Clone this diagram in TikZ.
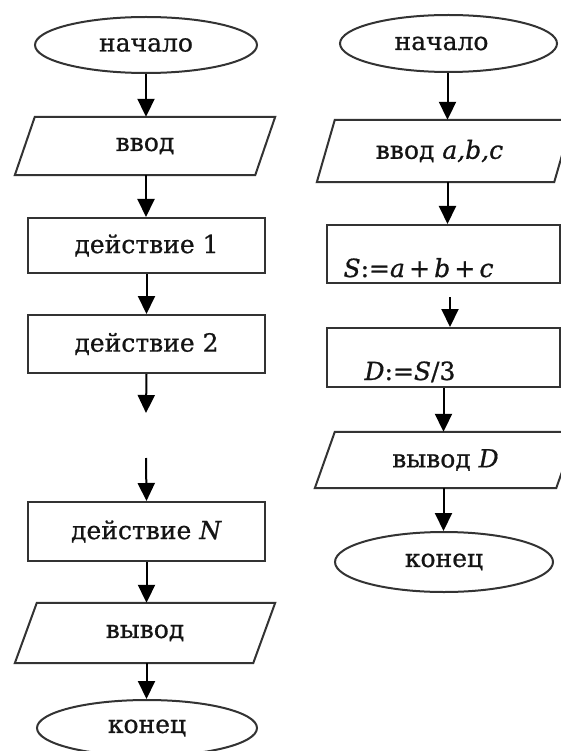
\documentclass[tikz,border=0pt]{standalone}
\usepackage{fontspec}
\setmainfont{DejaVu Serif}[FakeBold=0.8]
\usetikzlibrary{shapes.geometric,arrows.meta}
\begin{document}
\begin{tikzpicture}[x=1pt,y=-1pt,
  every node/.style={font=\fontsize{25}{29}\selectfont, text=black!92},
  outline/.style={draw=black!80, line width=2pt, line join=miter},
  terminal/.style={outline, ellipse, inner sep=0pt},
  process/.style={outline, rectangle, inner sep=0pt},
  iobox/.style={rectangle, inner sep=0pt},
  flow/.style={draw=black, line width=2pt, -{Triangle[width=17pt,length=18pt]}},
]
\useasboundingbox (0,0) rectangle (561,751);

% ---------- general scheme (left column) ----------
\node[terminal, minimum width=222pt, minimum height=56pt] (startL) at (146,45) {начало};
\node[iobox, minimum width=240pt, minimum height=58pt] (inL) at (145,146) {ввод};
\node[process, minimum width=237pt, minimum height=55pt] (act1) at (146.5,245.5) {действие 1};
\node[process, minimum width=237pt, minimum height=58pt] (act2) at (146.5,344) {действие 2};
\coordinate (gapTop) at (146,413);
\coordinate (gapBot) at (146,458);
\node[process, minimum width=237pt, minimum height=59pt] (actN) at (146.5,531.5) {действие \textit{N}};
\node[iobox, minimum width=238pt, minimum height=60pt] (outL) at (145,633) {вывод};
\node[terminal, minimum width=220pt, minimum height=56pt] (endL) at (147,728) {конец};

% ---------- example (right column) ----------
\node[terminal, minimum width=217pt, minimum height=57pt] (startR) at (448.5,43.5) {начало\hspace*{14pt}};
\node[iobox, minimum width=237pt, minimum height=62pt] (inR) at (444.5,151) {ввод \textit{a,b,c}\hspace*{10pt}};
\node[process, minimum width=233pt, minimum height=58pt] (sumBox) at (443.5,254) {};
\node[anchor=base west] (sumTxt) at (340,277) {\textit{S}:=\textit{a}\,+\,\textit{b}\,+\,\textit{c}};
\coordinate (sumGap) at (450,297);
\node[process, minimum width=233pt, minimum height=59pt] (avgBox) at (443.5,357.5) {};
\node[anchor=base west] (avgTxt) at (361,380) {\textit{D}:=\textit{S}/3};
\node[iobox, minimum width=241pt, minimum height=56pt] (outR) at (445.5,460) {вывод \textit{D}};
\node[terminal, minimum width=218pt, minimum height=60pt] (endR) at (444,562) {конец};

% slanted input/output blocks
\foreach \n/\s in {inL/10, outL/11, inR/9, outR/10}
  \draw[outline] ([xshift=\s pt]\n.north west) -- ([xshift=\s pt]\n.north east)
    -- ([xshift=-\s pt]\n.south east) -- ([xshift=-\s pt]\n.south west) -- cycle;

% ---------- connectors ----------
\draw[flow] (startL.south) -- (startL.south |- inL.north);
\draw[flow] (startL.south |- inL.south) -- (startL.south |- act1.north);
\draw[flow] (act1.south) -- (act2.north);
\draw[flow] (act2.south) -- (gapTop);
\draw[flow] (gapBot) -- (actN.north);
\draw[flow] (actN.south) -- (actN.south |- outL.north);
\draw[flow] (actN.south |- outL.south) -- (actN.south |- endL.north);

\draw[flow] ([xshift=-1pt]startR.south) -- ([xshift=-1pt]startR.south |- inR.north);
\draw[flow] ([xshift=-1pt]startR.south |- inR.south) -- ([xshift=-1pt]startR.south |- sumBox.north);
\draw[flow] (sumGap) -- (sumGap |- avgBox.north);
\draw[flow] (avgBox.south) -- (avgBox.south |- outR.north);
\draw[flow] (avgBox.south |- outR.south) -- (avgBox.south |- endR.north);
\end{tikzpicture}
\end{document}
